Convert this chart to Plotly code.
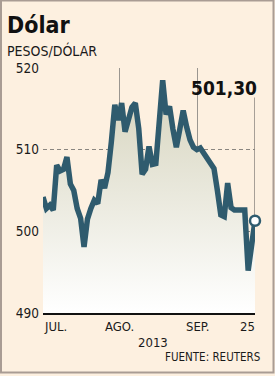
import plotly.graph_objects as go

# ---- data (trading days, 1 Jul - 25 Sep 2013) ----
dolar = [504.2, 502.8, 503.2, 502.6, 508.1, 507.4, 507.6, 509.1, 505.8, 505.0,
         502.8, 501.6, 498.1, 501.5, 502.8, 503.8, 503.4, 506.3, 505.3, 507.2,
         511.0, 515.5, 513.6, 515.7, 512.2, 513.8, 515.2, 515.7, 512.6, 507.0,
         507.6, 510.4, 508.2, 508.3, 513.5, 518.5, 514.3, 515.3, 512.5, 510.3,
         512.5, 514.8, 512.8, 511.2, 510.3, 510.0, 510.2, 509.5, 509.0, 508.3,
         507.7, 505.0, 502.0, 501.8, 505.9, 502.9, 502.6, 502.6, 502.6, 502.6,
         495.2, 498.5, 501.3]
days = list(range(len(dolar)))
month_tick_pos = [0, 22.5, 45.3, 62]
month_tick_text = ["JUL.", "AGO.", "SEP.", "25"]
month_grid_pos = [22.5, 45.3]
y_ticks = [490, 500, 510, 520]
last_label = "501,30"
title = "Dólar"
subtitle = "PESOS/DÓLAR"
year_label = "2013"
source = "FUENTE: REUTERS"

W, H = 275, 376
L, R, T, B = 43, 20, 68, 63
PW, PH = W - L - R, H - T - B

def px(x):
    return (x - L) / PW

def py(y):
    return (H - B - y) / PH

FONT = "DejaVu Sans Condensed, DejaVu Sans, sans-serif"
LINE = "#2f5b6e"
BG = "#fdf0e0"

fig = go.Figure()
fig.add_trace(go.Scatter(x=days, y=[y_ticks[0]] * len(days), mode="lines",
                         line=dict(width=0), hoverinfo="skip", showlegend=False))
fig.add_trace(go.Scatter(
    x=days, y=dolar, mode="lines", fill="tonexty",
    fillgradient=dict(type="vertical", start=y_ticks[0], stop=max(dolar),
                      colorscale=[[0, "#ffffff"], [1, "#d5d3bc"]]),
    line=dict(color=LINE, width=5.5, shape="linear"),
    showlegend=False, cliponaxis=False))
fig.add_trace(go.Scatter(
    x=[days[-1]], y=[dolar[-1]], mode="markers",
    marker=dict(size=10, color="white", line=dict(color=LINE, width=2.5)),
    showlegend=False, cliponaxis=False))

fig.update_layout(
    width=W, height=H, margin=dict(l=L, r=R, t=T, b=B),
    paper_bgcolor=BG, plot_bgcolor=BG,
    font=dict(family=FONT, size=13, color="#1a1a1a"),
    xaxis=dict(range=[days[0], days[-1]], tickvals=month_grid_pos, showticklabels=False,
               showgrid=True, gridcolor="#9a9690", gridwidth=1,
               showline=True, linecolor="#111111", linewidth=2, ticks="",
               zeroline=False, layer="below traces"),
    yaxis=dict(range=[y_ticks[0], y_ticks[-1]], tickvals=y_ticks,
               showgrid=True, gridcolor="#8a8680", gridwidth=1, griddash="4px,3px",
               ticks="", ticklabelstandoff=3, zeroline=False,
               tickfont=dict(size=13.5, family=FONT, color="#1a1a1a")),
)

# vertical marker line from label to last point
fig.add_shape(type="line", xref="x", yref="y", x0=days[-1], x1=days[-1],
              y0=dolar[-1], y1=516.4, line=dict(color="#6e6a66", width=1.2), layer="below")

ann = []
ann.append(dict(text=f"<b>{title}</b>", x=px(5), y=py(25), xanchor="left", yanchor="middle",
                font=dict(size=23, family=FONT, color="#111")))
ann.append(dict(text=subtitle, x=px(5), y=py(50), xanchor="left", yanchor="middle",
                font=dict(size=14, family=FONT, color="#1a1a1a")))
ann.append(dict(text=f"<b>{last_label}</b>", x=px(259), y=py(88), xanchor="right", yanchor="middle",
                font=dict(size=19, family=FONT, color="#111")))
anchors = ["left", "center", "center", "right"]
shift = [-1, 0, 0, 2]
for pos, txt, a, s in zip(month_tick_pos, month_tick_text, anchors, shift):
    ann.append(dict(text=txt, x=pos, xref="x", xshift=s, y=py(326), xanchor=a, yanchor="middle",
                    font=dict(size=13, family=FONT, color="#1a1a1a")))
ann.append(dict(text=year_label, x=px(153), y=py(342), xanchor="center", yanchor="middle",
                font=dict(size=13, family=FONT, color="#1a1a1a")))
ann.append(dict(text=source, x=px(262), y=py(357), xanchor="right", yanchor="middle",
                font=dict(size=11.5, family=FONT, color="#1a1a1a")))
for a in ann:
    a.setdefault("xref", "paper")
    a["yref"] = "paper"
    a["showarrow"] = False
fig.update_layout(annotations=ann)

fig.add_shape(type="rect", xref="paper", yref="paper",
              x0=px(1), x1=px(273.5), y0=py(372.5), y1=py(0.5),
              line=dict(color="#a99c94", width=2), fillcolor="rgba(0,0,0,0)", layer="above")

fig.write_html("out.html")
